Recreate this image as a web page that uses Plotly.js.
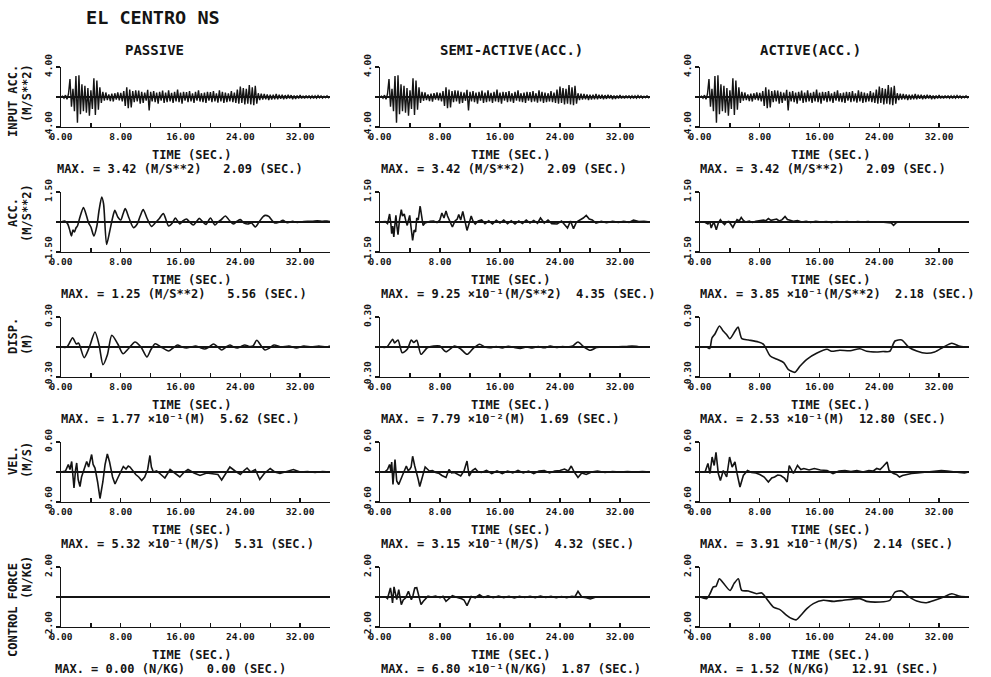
<!DOCTYPE html>
<html><head><meta charset="utf-8">
<script src="https://cdn.plot.ly/plotly-3.0.1.min.js"></script>
<style>html,body{margin:0;padding:0;background:#fff;}#chart{width:991px;height:677px;}</style>
</head><body><div id="chart"></div>
<script>
// ---------------- DATA ----------------
// Input ground acceleration (El Centro NS), sampled every 0.2 s from 0 to 36 s (m/s^2)
const inputDt = 0.2;
const inputAcc = [
 0.00, 0.10, -0.15, 0.25, -0.30, 0.40,
 2.40, -1.30, 1.10, -1.90, 2.80,
 -3.42, 2.90, -2.30, 1.70, -1.90,
 1.50, -2.10, 1.20, -2.50, 0.90,
 -1.60, 2.50, -2.40, 2.20, -1.70,
 1.30, -0.80, 0.70, -0.50, 0.60,
 -0.40, 0.35, -0.55, 0.45, -0.60,
 0.50, -0.35, 0.60, -0.45, 0.55,
 -0.60, 0.80, -1.20, 1.30, -1.50,
 1.00, -1.40, 0.80, -0.70, 0.90,
 -0.60, 0.85, -0.90, 0.70, -0.80,
 0.60, -0.50, 0.95, -1.80, 0.70,
 -0.60, 0.80, -0.70, 0.60, -0.90,
 0.70, -0.50, 0.85, -0.80, 0.60,
 -0.70, 0.90, -0.60, 0.55, -0.80,
 0.70, -0.60, 1.00, -0.70, 0.60,
 -0.90, 0.70, -0.50, 0.65, -0.70,
 0.80, -0.60, 0.50, -0.80, 0.70,
 -0.50, 0.90, -0.60, 0.50, -0.70,
 0.60, -0.80, 0.70, -0.50, 0.65,
 -0.70, 0.80, -0.60, 0.50, -0.75,
 0.90, -0.60, 0.70, -0.80, 0.60,
 -0.70, 0.50, -0.60, 0.80, -0.70,
 0.60, -0.80, 1.00, -0.90, 1.40,
 -0.80, 1.20, -1.00, 1.10, -0.90,
 1.60, -1.00, 1.30, -1.10, 1.50,
 -0.90, 0.50, -0.40, 0.45, -0.35,
 0.40, -0.30, 0.35, -0.40, 0.30,
 -0.35, 0.30, -0.30, 0.40, -0.30,
 0.30, -0.25, 0.30, -0.30, 0.25,
 -0.25, 0.30, -0.20, 0.25, -0.30,
 0.20, -0.25, 0.20, -0.20, 0.25,
 -0.20, 0.15, -0.20, 0.20, -0.15,
 0.20, -0.15, 0.15, -0.20, 0.15,
 -0.15, 0.20, -0.10, 0.15, -0.15,
 0.10, -0.10, 0.15, -0.10, 0.05
];

// PASSIVE
const passAccT = [0,0.5,0.9,1.2,1.4,1.6,1.8,2.0,2.2,2.5,
 3.0,3.3,3.7,4.0,4.4,4.8,5.1,5.45,5.7,6.1,
 6.5,6.9,7.2,7.6,8.0,8.3,8.6,9.1,9.7,10.2,
 10.6,11.0,11.5,12.1,12.6,13.1,13.7,14.4,14.9,15.3,
 15.9,16.3,16.8,17.2,17.7,18.1,18.5,19.0,19.4,20.0,
 20.6,21.0,21.4,22.0,22.6,23.1,23.6,24.0,24.5,25.0,
 25.5,26.0,26.5,27.0,27.3,27.8,28.2,28.6,29.2,29.7,
 30.3,31.0,31.6,32.3,33.0,33.6,34.3,35.0,35.6,36.0];
const passAccV = [0,0.05,-0.1,-0.45,-0.7,-0.4,-0.5,-0.3,-0.2,0.2,
 0.72,0.45,-0.05,-0.25,-0.7,-0.2,0.6,1.25,0.9,-1.12,
 -0.5,0.2,0.58,0.25,0.1,0.4,0.67,0.2,-0.28,-0.1,
 0.3,0.62,0.2,-0.22,-0.05,0.15,0.42,-0.2,-0.05,0.2,
 -0.1,0.05,0.15,0.0,-0.15,0.0,0.18,0.0,-0.12,0.2,
 -0.15,0.0,0.1,0.3,0.05,-0.1,0.05,0.12,-0.05,-0.1,
 -0.05,-0.25,0.0,0.25,0.33,0.28,0.1,-0.05,0.0,0.08,
 -0.04,0.03,-0.02,0.01,0.04,0.03,0.06,0.04,0.05,0.02];

const passDispT = [0,0.8,1.55,2.05,2.35,3.1,3.8,4.55,5.1,5.62,
 6.2,6.8,7.6,8.3,9.1,9.9,10.7,11.5,12.0,12.6,
 13.4,14.4,15.0,15.6,16.2,16.8,17.4,18.0,18.6,19.2,
 19.8,20.4,21.0,21.5,22.1,22.6,23.1,23.6,24.1,24.6,
 25.2,25.7,26.2,26.8,27.3,27.9,28.5,29.5,30.5,31.5,
 32.5,33.5,34.5,35.5,36.0];
const passDispV = [0,0.0,0.093,0.03,0.04,-0.107,0.0,0.15,0.02,-0.177,
 -0.08,0.117,0.03,-0.067,-0.01,0.05,0.0,-0.1,-0.03,0.033,
 0.0,-0.04,-0.01,0.02,0.0,-0.01,0.0,0.01,-0.005,-0.02,
 0.0,0.03,0.0,-0.03,0.0,0.02,0.0,-0.01,0.005,0.02,
 0.005,0.01,0.067,0.01,-0.03,-0.01,0.02,0.0,0.01,-0.01,
 0.01,0.0,0.01,0.0,0.01];

const passVelT = [0,0.6,0.98,1.2,1.43,1.6,1.74,1.95,2.1,2.3,
 2.54,2.75,2.99,3.2,3.44,3.7,3.9,4.1,4.3,4.55,
 4.9,5.22,5.6,5.9,6.2,6.5,6.9,7.23,7.6,8.0,
 8.34,8.7,9.0,9.24,9.6,10.0,10.4,10.8,11.2,11.6,
 11.9,12.1,12.36,12.8,13.3,13.9,14.6,15.2,15.9,16.5,
 17.0,17.8,18.6,19.5,20.4,21.0,21.5,22.0,22.6,23.3,
 24.0,24.5,24.9,25.4,26.0,26.6,27.2,28.0,28.6,29.3,
 30.2,31.1,32.0,33.0,34.0,35.0,36.0];
const passVelV = [0,0.02,0.15,0.05,0.21,-0.1,-0.32,0.05,0.18,-0.15,
 -0.29,-0.1,0.0,0.12,0.21,0.1,0.2,0.35,0.15,0.08,
 -0.2,-0.53,-0.2,0.15,0.36,0.2,-0.1,-0.24,-0.12,0.02,
 0.11,0.06,0.12,0.1,0.03,-0.05,-0.1,-0.17,-0.1,0.05,
 0.33,0.1,0.0,0.02,-0.04,-0.12,0.05,-0.02,-0.1,0.0,
 0.05,-0.02,-0.07,-0.02,-0.03,-0.05,-0.16,-0.03,0.1,0.02,
 -0.05,0.03,0.08,0.0,0.05,-0.15,-0.03,0.07,0.0,-0.03,
 0.01,0.05,0.0,0.01,-0.01,0.01,0.0];

const passForceT = [0,36];
const passForceV = [0,0];

// SEMI-ACTIVE
const semiAccT = [0,0.7,1.0,1.28,1.45,1.56,1.7,1.84,2.0,2.12,
 2.25,2.4,2.6,2.84,3.0,3.23,3.45,3.63,3.8,3.96,
 4.15,4.35,4.55,4.74,4.9,5.1,5.35,5.55,5.74,6.0,
 6.3,6.7,7.14,7.6,7.98,8.25,8.53,8.8,9.0,9.2,
 9.45,9.65,10.0,10.3,10.5,10.76,11.04,11.3,11.6,11.9,
 12.16,12.4,12.7,13.1,13.55,14.0,14.5,15.0,15.5,16.0,
 16.5,17.0,17.5,18.0,18.5,19.0,19.5,20.0,20.5,21.0,
 21.4,21.9,22.4,22.9,23.6,24.2,24.6,25.0,25.4,25.8,
 26.2,26.7,27.1,27.5,27.9,28.3,28.8,29.5,30.2,31.0,
 31.8,32.5,33.2,33.8,34.5,35.2,36.0];
const semiAccV = [0,0.02,-0.08,0.4,-0.1,-0.58,-0.2,-0.75,-0.1,0.33,
 -0.2,-0.63,0.1,0.62,0.3,0.4,0.05,-0.17,0.1,0.33,
 -0.3,-0.92,-0.4,-0.5,0.2,0.1,0.8,0.3,-0.17,-0.05,
 0.0,0.04,0.05,-0.03,0.1,0.45,0.2,0.55,0.3,0.15,
 -0.05,-0.25,0.05,0.15,0.37,0.1,0.53,0.1,-0.42,-0.05,
 0.3,0.05,-0.1,0.05,0.1,-0.08,0.06,-0.1,0.08,-0.05,
 0.1,-0.08,0.06,-0.1,0.05,-0.07,0.1,-0.05,0.08,-0.06,
 0.2,-0.05,0.1,-0.08,-0.1,0.05,-0.15,-0.3,0.05,-0.33,
 0.0,0.1,0.2,0.33,0.15,0.1,-0.05,0.03,-0.04,0.03,
 -0.02,0.04,-0.02,0.1,0.02,0.03,0.0];

const semiDispT = [0,0.9,1.69,1.95,2.4,2.96,3.63,4.18,4.5,4.9,
 5.47,6.3,7.14,7.98,8.8,9.93,10.76,11.6,12.44,13.27,
 14.0,14.67,15.5,16.3,17.1,17.9,18.7,19.5,20.3,21.1,
 21.9,22.7,23.5,24.3,25.0,25.7,26.4,27.2,28.05,28.9,
 29.8,30.8,31.8,32.8,33.6,34.5,35.3,36.0];
const semiDispV = [0,0.0,0.078,0.04,0.07,-0.057,-0.023,0.07,0.045,0.067,
 -0.073,-0.007,0.01,0.01,-0.047,0.01,-0.02,-0.073,-0.013,0.027,
 0.0,-0.007,0.005,-0.01,0.008,-0.005,-0.015,0.0,-0.01,0.005,
 -0.008,0.01,-0.005,0.005,0.0,0.01,0.05,0.0,-0.033,-0.005,
 0.0,-0.003,0.003,0.005,0.01,0.003,0.0,0.0];

const semiVelT = [0,0.7,1.0,1.28,1.45,1.56,1.73,1.87,2.0,2.23,
 2.5,2.96,3.25,3.51,3.75,3.96,4.15,4.35,4.63,4.9,
 5.1,5.3,5.5,5.74,6.02,6.58,7.0,7.42,7.9,8.25,
 8.8,9.2,9.55,9.93,10.35,10.76,11.2,11.6,11.88,12.3,
 12.7,13.1,13.55,14.2,14.9,15.6,16.3,17.0,17.7,18.4,
 19.1,19.8,20.5,21.2,21.9,22.6,23.3,24.0,24.6,25.1,
 25.5,25.9,26.4,26.9,27.5,28.2,29.0,30.0,31.0,32.0,
 33.0,34.0,35.0,36.0];
const semiVelV = [0,0.01,0.05,0.15,0.02,0.2,-0.25,0.0,0.25,-0.18,
 -0.25,-0.08,0.02,0.12,0.03,0.05,0.1,0.315,0.12,-0.01,
 -0.15,-0.29,-0.18,-0.05,0.1,0.02,0.03,-0.01,-0.03,-0.07,
 -0.11,0.05,-0.02,-0.01,-0.05,-0.08,0.02,0.22,-0.08,0.03,
 0.07,0.0,-0.01,0.03,-0.03,0.02,-0.03,0.02,-0.02,0.03,
 -0.02,0.02,-0.03,0.02,0.03,-0.02,0.02,0.03,0.06,0.02,
 0.12,0.0,-0.11,-0.02,-0.05,0.0,0.02,-0.01,0.01,0.0,
 0.01,0.0,0.01,0.0];

const semiForceT = [0,0.7,1.0,1.2,1.39,1.55,1.67,1.87,2.05,2.23,
 2.5,2.84,3.1,3.4,3.79,4.18,4.4,4.63,4.9,5.2,
 5.47,5.75,6.02,6.4,6.86,7.4,8.0,8.4,8.8,9.2,
 9.65,10.2,10.76,11.2,11.6,12.16,12.7,13.27,13.8,14.4,
 15.1,15.8,16.5,17.2,17.9,18.6,19.3,20.0,20.7,21.4,
 22.1,22.8,23.5,24.2,24.9,25.6,26.0,26.4,26.9,27.5,
 28.05,28.7,29.5,30.5,31.5,32.5,33.5,34.5,35.5,36.0];
const semiForceV = [0,0.02,-0.1,0.2,0.6,0.1,-0.4,0.68,0.3,-0.18,
 0.49,-0.51,-0.2,-0.07,0.38,-0.18,0.1,0.6,0.62,0.0,
 -0.51,-0.3,-0.13,0.05,0.0,0.06,-0.05,0.05,-0.29,-0.1,
 0.09,-0.02,-0.09,-0.2,-0.58,0.04,-0.05,0.15,-0.03,0.07,
 -0.05,0.06,-0.04,0.05,-0.06,0.04,-0.03,0.05,-0.04,0.06,
 -0.03,0.04,-0.05,0.03,-0.04,0.05,0.02,0.38,0.0,-0.05,
 -0.13,-0.02,0.02,-0.01,0.01,0.0,0.01,-0.01,0.0,0.0];

// ACTIVE
const actAccT = [0,0.6,1.06,1.3,1.5,1.7,1.9,2.05,2.18,2.45,
 2.73,3.0,3.29,3.55,3.85,4.1,4.4,4.7,4.96,5.25,
 5.52,5.8,6.08,6.6,7.0,7.47,8.0,8.5,8.8,9.15,
 9.5,9.9,10.26,10.6,11.0,11.38,11.7,11.94,12.5,13.05,
 13.6,14.2,14.8,15.5,16.2,16.9,17.6,18.3,19.0,19.7,
 20.4,21.1,21.8,22.5,23.2,23.9,24.6,25.2,25.6,25.9,
 26.3,26.8,27.5,28.3,29.2,30.2,31.2,32.2,33.2,34.2,
 35.1,36.0];
const actAccV = [0,0.0,-0.1,0.02,-0.3,-0.1,-0.05,-0.2,-0.385,-0.05,
 0.12,-0.02,-0.13,0.0,0.03,-0.1,-0.27,-0.05,0.12,0.05,
 0.23,0.08,0.0,0.04,-0.02,0.03,0.05,0.1,0.06,0.17,
 0.08,0.12,0.15,0.05,0.12,0.28,0.12,0.1,0.04,0.07,
 0.0,0.03,-0.02,0.03,0.0,0.02,-0.02,0.02,0.0,0.02,
 -0.01,0.02,0.0,0.02,-0.01,0.01,0.0,-0.03,-0.05,-0.17,
 -0.02,0.01,0.0,0.01,-0.01,0.0,0.01,0.0,0.0,0.01,
 0.0,0.0];

const actDispT = [0,0.9,1.3,1.6,2.0,2.6,3.1,3.6,4.0,4.7,
 5.1,5.6,6.5,7.8,8.5,9.4,10.3,11.2,11.8,12.7,
 13.4,14.3,15.6,17.0,17.6,18.7,20.1,21.4,22.3,23.6,
 24.5,25.4,26.1,27.0,27.9,29.0,30.3,31.4,32.6,33.7,
 34.8,36.0];
const actDispV = [0,0.0,-0.015,0.09,0.13,0.21,0.16,0.12,0.083,0.16,
 0.2,0.083,0.07,0.05,0.027,-0.09,-0.123,-0.157,-0.223,-0.253,
 -0.19,-0.123,-0.063,-0.023,-0.043,-0.033,-0.037,-0.017,-0.043,-0.05,
 -0.045,-0.043,0.06,0.07,0.0,-0.04,-0.063,-0.05,0.0,0.037,
 0.007,0.0];

const actVelT = [0,0.7,1.06,1.34,1.62,1.9,2.14,2.45,2.73,3.12,
 3.57,3.96,4.3,4.68,4.96,5.35,5.8,6.36,6.9,7.47,
 8.0,8.59,9.15,9.6,9.98,10.4,10.8,11.3,11.66,11.94,
 12.5,13.05,13.5,13.9,14.6,15.3,16.1,17.0,17.8,18.6,
 19.4,20.2,21.0,21.8,22.6,23.2,23.65,24.1,24.5,25.04,
 25.3,25.9,26.3,26.7,27.1,27.55,28.3,29.1,29.9,30.7,
 31.5,32.3,33.1,33.9,34.7,35.4,36.0];
const actVelV = [0,0.01,0.17,-0.03,0.3,0.13,0.391,-0.03,-0.17,0.03,
 -0.1,0.3,0.1,0.2,-0.03,-0.3,-0.07,0.03,-0.01,-0.02,
 -0.05,-0.1,-0.2,-0.12,-0.1,-0.06,-0.07,-0.12,-0.2,0.13,
 -0.03,0.13,0.05,0.07,0.04,0.07,0.04,0.03,-0.03,0.02,
 0.03,0.01,0.03,0.0,0.03,0.02,0.07,0.05,0.11,0.2,
 0.03,-0.03,-0.05,-0.1,-0.07,-0.05,-0.03,-0.02,-0.01,0.0,
 0.02,0.03,0.02,0.0,-0.01,-0.02,0.0];

const actForceT = [0,0.9,1.34,1.78,2.14,2.59,3.12,4.02,4.55,5.13,
 5.58,6.47,7.59,8.26,8.92,9.82,10.7,11.6,12.27,12.91,
 13.5,14.3,15.17,16.5,17.85,19.2,21.4,22.3,24.1,25.4,
 26.1,27.0,27.9,29.0,30.3,31.4,32.6,33.7,34.8,36.0];
const actForceV = [0,-0.11,0.22,0.67,0.71,1.22,0.93,0.44,0.89,1.22,
 0.44,0.4,0.22,0.27,-0.11,-0.67,-0.84,-1.22,-1.44,-1.52,
 -1.22,-0.78,-0.44,-0.22,-0.29,-0.22,-0.11,-0.29,-0.33,-0.22,
 0.33,0.4,0.04,-0.27,-0.38,-0.22,0.0,0.22,0.04,0.0];

// Labels
const chartTitle = 'EL CENTRO NS';
const columnTitles = ['PASSIVE', 'SEMI-ACTIVE(ACC.)', 'ACTIVE(ACC.)'];
const rowTitles = [['INPUT ACC.','(M/S**2)'],['ACC.','(M/S**2)'],['DISP.','(M)'],['VEL.','(M/S)'],['CONTROL FORCE','(N/KG)']];
const rowLimits = [4, 1.5, 0.3, 0.6, 2];
const rowLimitLabels = ['4.00', '1.50', '0.30', '0.60', '2.00'];
const xTitle = 'TIME (SEC.)';
const S = '\u00a0\u00a0\u00a0';
const S2 = '\u00a0\u00a0';
const maxTexts = [
 ['MAX. = 3.42 (M/S**2)'+S+'2.09 (SEC.)','MAX. = 3.42 (M/S**2)'+S+'2.09 (SEC.)','MAX. = 3.42 (M/S**2)'+S+'2.09 (SEC.)'],
 ['MAX. = 1.25 (M/S**2)'+S+'5.56 (SEC.)','MAX. = 9.25 ×10⁻¹(M/S**2)'+S2+'4.35 (SEC.)','MAX. = 3.85 ×10⁻¹(M/S**2)'+S2+'2.18 (SEC.)'],
 ['MAX. = 1.77 ×10⁻¹(M)'+S2+'5.62 (SEC.)','MAX. = 7.79 ×10⁻²(M)'+S2+'1.69 (SEC.)','MAX. = 2.53 ×10⁻¹(M)'+S2+'12.80 (SEC.)'],
 ['MAX. = 5.32 ×10⁻¹(M/S)'+S2+'5.31 (SEC.)','MAX. = 3.15 ×10⁻¹(M/S)'+S2+'4.32 (SEC.)','MAX. = 3.91 ×10⁻¹(M/S)'+S2+'2.14 (SEC.)'],
 ['MAX. = 0.00 (N/KG)'+S+'0.00 (SEC.)','MAX. = 6.80 ×10⁻¹(N/KG)'+S2+'1.87 (SEC.)','MAX. = 1.52 (N/KG)'+S+'12.91 (SEC.)']
];

// ---------------- BUILD ----------------
const inputT = inputAcc.map((_, i) => Math.round(i * inputDt * 10) / 10);
const series = [
 [{t: inputT, v: inputAcc, s: 'linear'}, {t: inputT, v: inputAcc, s: 'linear'}, {t: inputT, v: inputAcc, s: 'linear'}],
 [{t: passAccT, v: passAccV, s: 'spline'}, {t: semiAccT, v: semiAccV, s: 'linear'}, {t: actAccT, v: actAccV, s: 'linear'}],
 [{t: passDispT, v: passDispV, s: 'spline'}, {t: semiDispT, v: semiDispV, s: 'spline'}, {t: actDispT, v: actDispV, s: 'spline'}],
 [{t: passVelT, v: passVelV, s: 'linear'}, {t: semiVelT, v: semiVelV, s: 'linear'}, {t: actVelT, v: actVelV, s: 'linear'}],
 [{t: passForceT, v: passForceV, s: 'linear'}, {t: semiForceT, v: semiForceV, s: 'linear'}, {t: actForceT, v: actForceV, s: 'spline'}]
];

const W = 991, H = 677;
const colLeft = [61, 380, 700], colRight = [330, 650, 969];
const rowTop = [67, 192, 317, 442, 567], plotH = 60;
const FONT = 'DejaVu Sans Mono';
const INK = '#141414';
const px = x => x / W, py = y => 1 - y / H;
const txtFont = (size) => ({family: FONT, size: size, color: INK, weight: 'bold'});

const traces = [];
const layout = {
  width: W, height: H, margin: {l: 0, r: 0, t: 0, b: 0},
  paper_bgcolor: '#fff', plot_bgcolor: 'rgba(0,0,0,0)',
  showlegend: false, annotations: [], font: {family: FONT, color: INK}
};

for (let r = 0; r < 5; r++) {
  for (let c = 0; c < 3; c++) {
    const k = r * 3 + c + 1;
    const xs = k === 1 ? '' : String(k);
    const sr = series[r][c];
    traces.push({
      x: sr.t, y: sr.v, type: 'scatter', mode: 'lines',
      xaxis: 'x' + xs, yaxis: 'y' + xs,
      line: {color: INK, width: r === 0 ? 1.4 : 1.6, shape: sr.s, smoothing: 0.7},
      hoverinfo: 'skip'
    });
    const m = rowLimits[r];
    layout['xaxis' + xs] = {
      domain: [px(colLeft[c]), px(colRight[c])], anchor: 'y' + xs,
      range: [0, 36], tickmode: 'linear', tick0: 0, dtick: 8, tickformat: '.2f',
      minor: {tick0: 0, dtick: 4, ticks: 'inside', ticklen: 4, tickwidth: 1.4, tickcolor: INK},
      showline: true, linecolor: INK, linewidth: 1.4, ticks: 'inside', ticklen: 4,
      tickwidth: 1.4, tickcolor: INK, showgrid: false, zeroline: false,
      tickfont: txtFont(9.5), fixedrange: true
    };
    layout['yaxis' + xs] = {
      domain: [py(rowTop[r] + plotH), py(rowTop[r])], anchor: 'x' + xs,
      range: [-m, m], tickmode: 'array', tickvals: [-m, m],
      ticktext: ['-' + rowLimitLabels[r], rowLimitLabels[r]], tickangle: -90,
      minor: {tickmode: 'array', tickvals: [0], ticks: 'outside', ticklen: 4, tickwidth: 1.4, tickcolor: INK},
      showline: true, linecolor: INK, linewidth: 1.4, ticks: 'outside', ticklen: 4,
      tickwidth: 1.4, tickcolor: INK, showgrid: false,
      zeroline: true, zerolinecolor: INK, zerolinewidth: 1.1,
      tickfont: txtFont(9.5), fixedrange: true
    };
    const cx = (colLeft[c] + colRight[c]) / 2 - 4;
    layout.annotations.push({
      xref: 'paper', yref: 'paper', x: px(cx), y: py(rowTop[r] + 88),
      text: xTitle, showarrow: false, xanchor: 'center', yanchor: 'middle',
      font: txtFont(12)
    });
    const mxLeft = [59, 379, 698][c] - ((c === 0 && r === 0) ? 4 : 0) - ((c === 0 && r === 4) ? 6 : 0);
    layout.annotations.push({
      xref: 'paper', yref: 'paper', x: px(mxLeft), y: py(rowTop[r] + 102),
      text: maxTexts[r][c], showarrow: false, xanchor: 'left', yanchor: 'middle',
      font: txtFont(12)
    });
  }
}

// Row (y-axis) titles on the left column
const rowTitleY = [[101, 93], [213, 213], [336, 344], [461, 460], [610, 578]];
for (let r = 0; r < 5; r++) {
  layout.annotations.push({
    xref: 'paper', yref: 'paper', x: px(13), y: py(rowTitleY[r][0]), text: rowTitles[r][0],
    textangle: -90, showarrow: false, xanchor: 'center', yanchor: 'middle',
    font: txtFont(12)
  });
  layout.annotations.push({
    xref: 'paper', yref: 'paper', x: px(27), y: py(rowTitleY[r][1]), text: rowTitles[r][1],
    textangle: -90, showarrow: false, xanchor: 'center', yanchor: 'middle',
    font: txtFont(12)
  });
}

// Column titles and chart title
const colTitleLeft = [123, 438, 758];
for (let c = 0; c < 3; c++) {
  layout.annotations.push({
    xref: 'paper', yref: 'paper', x: px(colTitleLeft[c]), y: py(50), text: columnTitles[c],
    showarrow: false, xanchor: 'left', yanchor: 'middle',
    font: txtFont(14)
  });
}
layout.annotations.push({
  xref: 'paper', yref: 'paper', x: px(84), y: py(18), text: chartTitle,
  showarrow: false, xanchor: 'left', yanchor: 'middle',
  font: txtFont(18.5)
});

Plotly.newPlot('chart', traces, layout, {staticPlot: true, displayModeBar: false});
</script>
</body></html>
